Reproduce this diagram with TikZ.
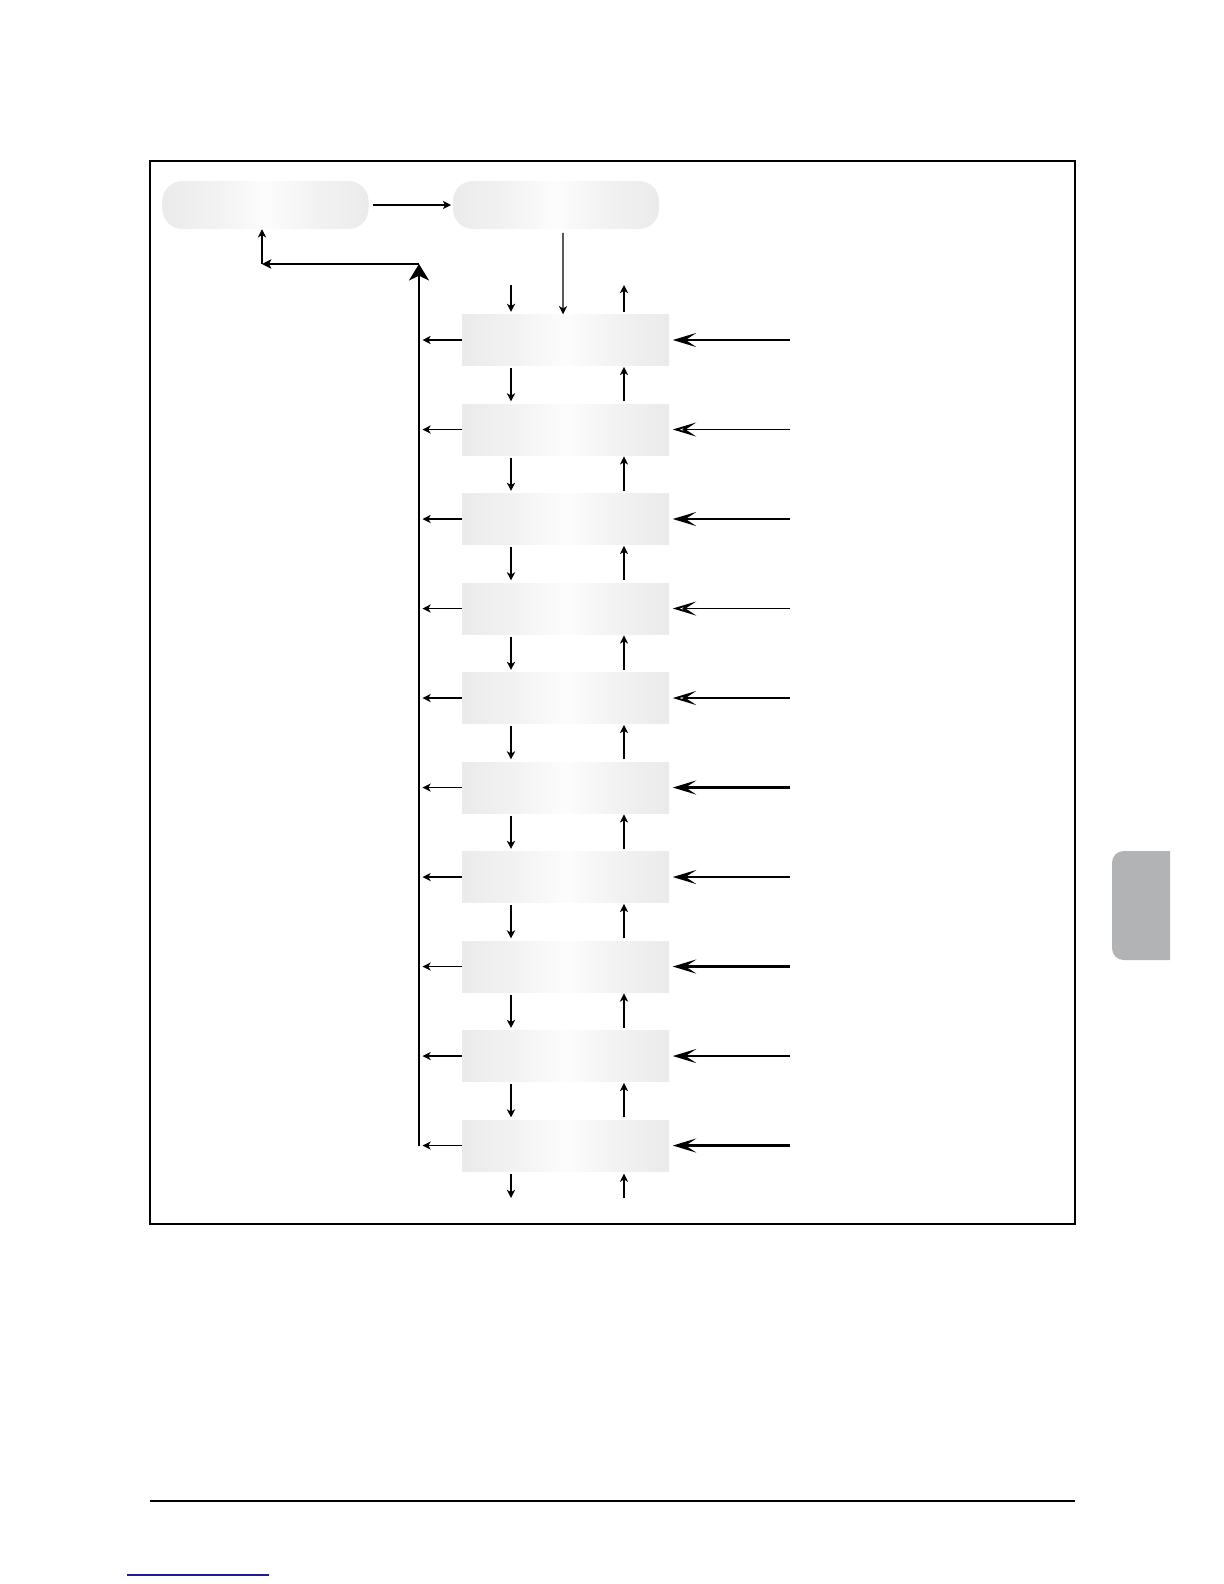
\documentclass[tikz,border=0pt]{standalone}
\usetikzlibrary{positioning,arrows.meta}
\definecolor{tabgray}{HTML}{B2B3B5}
\definecolor{linkblue}{HTML}{1C1C9C}
\pgfdeclarehorizontalshading{glow}{100bp}{
  rgb(0bp)=(0.91,0.91,0.91); rgb(25bp)=(0.92,0.92,0.92); rgb(38bp)=(0.95,0.95,0.95);
  rgb(50bp)=(0.99,0.99,0.99); rgb(62bp)=(0.95,0.95,0.95); rgb(75bp)=(0.92,0.92,0.92);
  rgb(100bp)=(0.91,0.91,0.91)}
\tikzset{
  panel/.style={minimum width=6.18cm, minimum height=1.44cm, inner sep=0pt,
    rounded corners=17pt, shading=glow},
  stepbox/.style={minimum width=6.21cm, minimum height=1.53cm, inner sep=0pt,
    shading=glow},
  flow/.style={-{Stealth[length=7pt,width=7pt,inset=2pt]}, line width=1.1pt},
  busline/.style={-{Stealth[length=14pt,width=17pt,inset=4pt]}, line width=2.4pt},
  backline/.style={-{Stealth[length=8pt,width=8pt,inset=2pt]}, line width=2pt},
  keyin/.style={-{Stealth[length=20pt,width=12pt,inset=9pt,open]}}
}

\begin{document}
\begin{tikzpicture}[x=0.03cm, y=-0.03cm, node distance=2.685cm, on grid]
    \useasboundingbox (0,0) rectangle (1224,1584);
    \draw[line width=1.2pt] (150,161) rectangle (1075,1224);

    % top row
    \node[panel] (standby) at (265.5,205) {};
    \node[panel] (menu) at (556,205) {};

    % the column of steps
    \node[stepbox] (s1) at (565.5,340) {};
    \foreach \i [remember=\i as \p (initially 1)] in {2,...,10}
        \node[stepbox, below=of s\p] (s\i) {};

    \coordinate (busend) at (419,264);
    \coordinate (corner) at (262,264);
    \coordinate (inA) at (511,285);
    \coordinate (outA) at (624,285);
    \coordinate (inB) at (511,1198);
    \coordinate (outB) at (624,1198);

    \draw[flow, shorten <=3.5pt, shorten >=1.5pt] (standby) -- (menu);
    \draw[flow, shorten <=3pt] ([xshift=6pt]menu.south) -- ([xshift=-2.1pt]s1.north);

    \draw[busline] (s10.west -| busend) -- (busend);
    \draw[backline] (busend) -- (corner);
    \draw[flow] (corner) -- (corner |- standby.south);

    % loose ends
    \draw[flow, shorten >=2pt] (inA) -- (inA |- s1.north);
    \draw[flow, shorten <=2pt] (outA |- s1.north) -- (outA);
    \draw[flow, line width=1.6pt, shorten <=2pt] (inA |- s10.south) -- (inB);
    \draw[flow, shorten >=2pt] (outB) -- (outA |- s10.south);

    \foreach \i [count=\n from 2] in {1,...,9} {
        \draw[flow, line width=1.5pt, shorten <=2pt, shorten >=2pt] (inA |- s\i.south) -- (inA |- s\n.north);
        \draw[flow, shorten <=2pt, shorten >=1pt] (outA |- s\n.north) -- (outA |- s\i.south);
    }
    \foreach \i/\w in {1/2.4,2/1.6,3/2.4,4/1.6,5/1.6,6/2.4,7/2.4,8/2.4,9/2.4,10/2.4} {
        \draw[flow, shorten >=3pt] (s\i.west) -- (s\i.west -| busend);
        \path (s\i.east) ++(121,0) coordinate (key\i);
        \draw[keyin, line width=\w pt, shorten >=3pt] (key\i) -- (s\i.east);
    }

    % side tab and page rules
    \fill[tabgray] (1170,851) [rounded corners=10pt] -- (1112,851) -- (1112,960)
        [sharp corners] -- (1170,960) -- cycle;
    \draw[line width=1pt] (150,1501) -- (1075,1501);
    \draw[linkblue, line width=1pt] (127,1575) -- (269,1575);
\end{tikzpicture}
\end{document}
